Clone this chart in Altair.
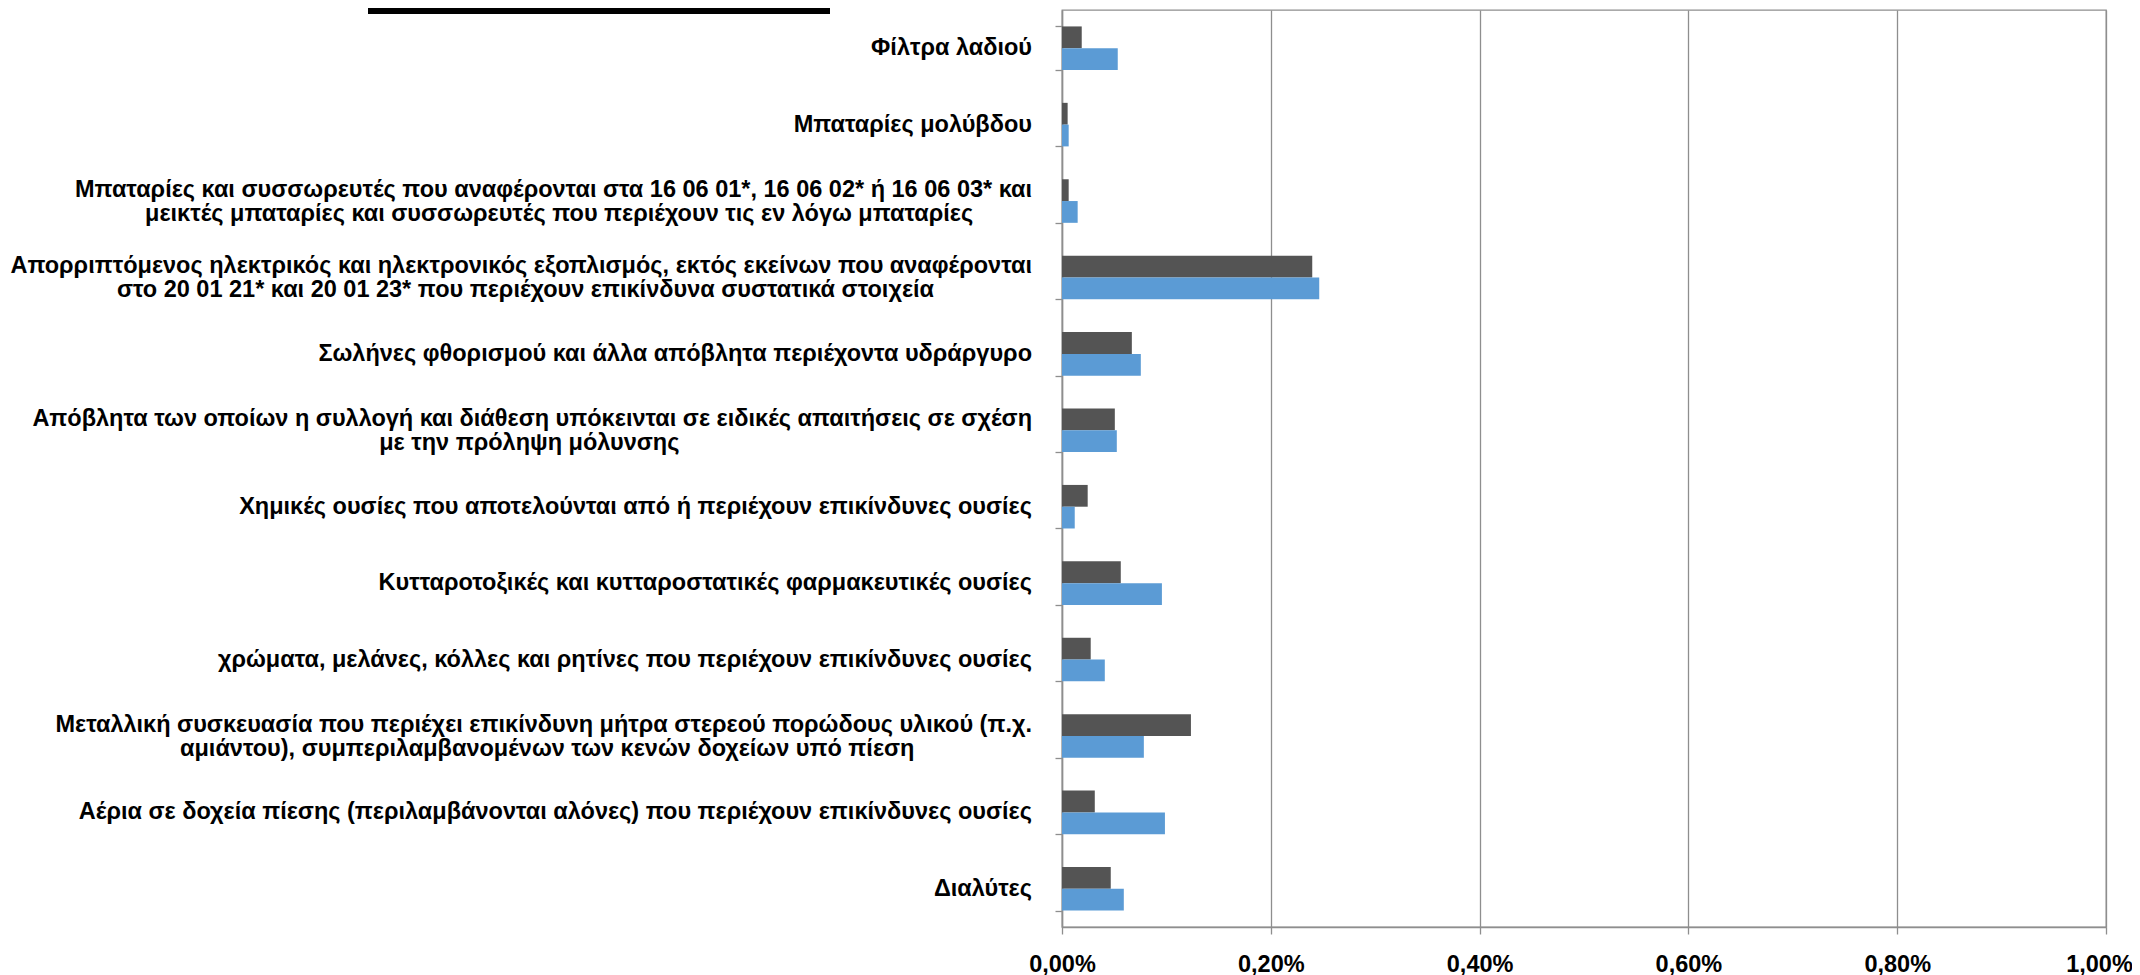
import altair as alt
import pandas as pd

# ---------------- data ----------------
CATEGORY_LINES = [
    ["Φίλτρα λαδιού"],
    ["Μπαταρίες μολύβδου"],
    ["Μπαταρίες και συσσωρευτές που αναφέρονται στα 16 06 01*, 16 06 02* ή 16 06 03* και",
     "μεικτές μπαταρίες και συσσωρευτές που περιέχουν τις εν λόγω μπαταρίες"],
    ["Απορριπτόμενος ηλεκτρικός και ηλεκτρονικός εξοπλισμός, εκτός εκείνων που αναφέρονται",
     "στο 20 01 21* και 20 01 23* που περιέχουν επικίνδυνα συστατικά στοιχεία"],
    ["Σωλήνες φθορισμού και άλλα απόβλητα περιέχοντα υδράργυρο"],
    ["Απόβλητα των οποίων η συλλογή και διάθεση υπόκεινται σε ειδικές απαιτήσεις σε σχέση",
     "με την πρόληψη μόλυνσης"],
    ["Χημικές ουσίες που αποτελούνται από ή περιέχουν επικίνδυνες ουσίες"],
    ["Κυτταροτοξικές και κυτταροστατικές φαρμακευτικές ουσίες"],
    ["χρώματα, μελάνες, κόλλες και ρητίνες που περιέχουν επικίνδυνες ουσίες"],
    ["Μεταλλική συσκευασία που περιέχει επικίνδυνη μήτρα στερεού πορώδους υλικού (π.χ.",
     "αμιάντου), συμπεριλαμβανομένων των κενών δοχείων υπό πίεση"],
    ["Αέρια σε δοχεία πίεσης (περιλαμβάνονται αλόνες) που περιέχουν επικίνδυνες ουσίες"],
    ["Διαλύτες"],
]

SERIES = ["Σειρά1", "Σειρά2"]
# values in percent
SERIES1_PCT = [0.0189, 0.0054, 0.0064, 0.2397, 0.0669, 0.0506,
               0.0246, 0.0563, 0.0275, 0.1235, 0.0314, 0.0467]
SERIES2_PCT = [0.0534, 0.0064, 0.0150, 0.2464, 0.0755, 0.0525,
               0.0122, 0.0957, 0.0410, 0.0784, 0.0986, 0.0592]

X_TICKS = [0, 0.002, 0.004, 0.006, 0.008, 0.010]

# ---------------- style ----------------
FONT = "Liberation Sans"
FS = 23.5
LINE_H = 24
# indentation (px) of second lines so they look centred under the first line
SECOND_LINE_INDENT = {2: 62, 3: 101, 5: 350, 9: 120}
NBSP_W = 0.278 * FS

labels = []
nlines = []
for i, lines in enumerate(CATEGORY_LINES):
    if len(lines) == 1:
        labels.append(lines[0])
    else:
        # trailing no-break spaces, closed by a zero-width space so they are not trimmed
        pad = "\u00a0" * int(round(SECOND_LINE_INDENT.get(i, 0) / NBSP_W)) + "\u200b"
        labels.append(lines[0] + "\n" + lines[1] + pad)
    nlines.append(len(lines))

rows = []
for lab, v1, v2 in zip(labels, SERIES1_PCT, SERIES2_PCT):
    rows.append({"cat": lab, "series": SERIES[0], "value": v1 / 100})
    rows.append({"cat": lab, "series": SERIES[1], "value": v2 / 100})
df = pd.DataFrame(rows)

lab_one = pd.DataFrame({"cat": [l for l, n in zip(labels, nlines) if n == 1]})
lab_two = pd.DataFrame({"cat": [l for l, n in zip(labels, nlines) if n == 2]})

GRAY = "#8E8E8E"

bars = alt.Chart(df).mark_bar().encode(
    y=alt.Y("cat:N", sort=labels,
            scale=alt.Scale(paddingInner=0.43, paddingOuter=0.215),
            axis=alt.Axis(title=None, labels=False, tickSize=7, tickBand="extent",
                          tickColor=GRAY, tickWidth=1.3, domainColor=GRAY,
                          domainWidth=1.5, grid=False)),
    yOffset=alt.YOffset("series:N", sort=SERIES,
                        scale=alt.Scale(paddingInner=0, paddingOuter=0)),
    x=alt.X("value:Q",
            scale=alt.Scale(domain=[0, 0.01], nice=False),
            axis=alt.Axis(title=None, values=X_TICKS,
                          labelExpr="replace(format(datum.value, '.2%'), '.', ',')",
                          labelFont=FONT, labelFontSize=FS, labelFontWeight="bold",
                          labelColor="black", labelPadding=18, tickSize=7,
                          labelOffset=alt.ExprRef("datum.value > 0.0099 ? -7 : 0"),
                          tickColor=GRAY, tickWidth=1.3, domainColor=GRAY,
                          domainWidth=1.3, grid=True, gridColor=GRAY,
                          gridWidth=1.3, labelFlush=False)),
    color=alt.Color("series:N", sort=SERIES,
                    scale=alt.Scale(domain=SERIES, range=["#545454", "#5B9BD5"]),
                    legend=None),
)

text_props = dict(font=FONT, fontSize=FS, fontWeight="bold", color="black",
                  align="right", baseline="middle", lineBreak="\n",
                  lineHeight=LINE_H)

labels_one = alt.Chart(lab_one).mark_text(dy=0, **text_props).encode(
    y=alt.Y("cat:N", sort=labels),
    x=alt.value(-30),
    text="cat:N",
)
labels_two = alt.Chart(lab_two).mark_text(dy=-(LINE_H / 2 - 1), **text_props).encode(
    y=alt.Y("cat:N", sort=labels),
    x=alt.value(-30),
    text="cat:N",
)

topbar = alt.Chart(pd.DataFrame({"k": [0]})).mark_rect(color="black").encode(
    x=alt.value(-694), x2=alt.value(-232), y=alt.value(-2), y2=alt.value(4)
)

chart = alt.layer(bars, labels_one, labels_two, topbar).properties(
    width=1044, height=917,
    autosize=alt.AutoSizeParams(type="none"),
    padding={"left": 1054, "top": 2, "right": 26, "bottom": 48},
).configure_view(stroke=GRAY, strokeWidth=1.3)

chart.save("out.html", embed_options={"renderer": "svg", "actions": False})
